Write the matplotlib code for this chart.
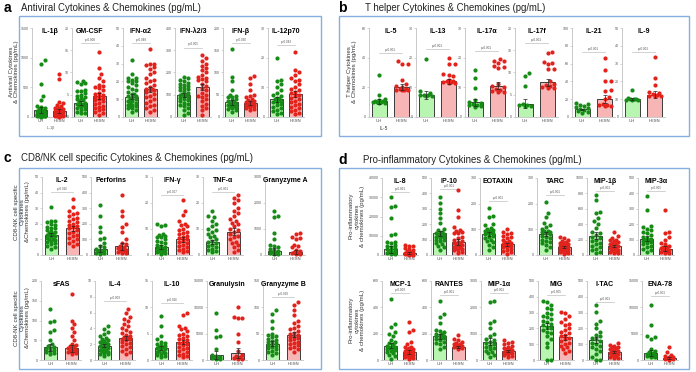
import matplotlib.pyplot as plt
import numpy as np
from matplotlib.patches import Rectangle

plt.rcParams['font.family'] = ['Liberation Sans', 'DejaVu Sans']

FW, FH = 696, 372
fig = plt.figure(figsize=(6.96, 3.72), dpi=100)

GREEN_PT = '#168c16'
RED_PT = '#e3221c'
GREEN_BAR = '#b8f5b0'
RED_BAR = '#f8b5b5'

# ---------------- panel a: antiviral ----------------
a_names = ['IL-1β', 'GM-CSF', 'IFN-α2', 'IFN-λ2/3', 'IFN-β', 'IL-12p70']
a_ymax = [1500, 20, 50, 400, 200, 30]
a_step = [500, 5, 10, 100, 50, 10]
a_uh_mean = [120, 3.2, 11.5, 98, 33, 6]
a_hesn_mean = [100, 4.7, 15.5, 135, 32, 7.7]
a_pvals = [None, 'p=0.008', 'p=0.048', 'p=0.005', 'p=0.030', 'p=0.043']
a_uh_pts = [
    [960, 900, 560, 360, 290, 180, 170, 150, 130, 120, 110, 100, 90, 80, 70, 60, 55, 50, 45, 40, 35, 30, 25, 20, 20, 15, 10, 10, 5],
    [8, 7.8, 7.6, 7.5, 6, 5.9, 5.8, 5.5, 5, 4.8, 4.5, 4.2, 4, 3.8, 3.5, 3.2, 3, 3, 2.8, 2.6, 2.5, 2.2, 2, 1.8, 1.5, 1.2, 1, 0.8],
    [32, 24, 22, 22, 21, 20, 20, 19, 18, 17, 16, 15, 14, 13, 13, 12, 12, 11, 10, 10, 9, 9, 8, 8, 7, 7, 6, 6, 5, 5, 4, 3],
    [180, 175, 165, 160, 155, 150, 145, 140, 135, 130, 125, 120, 115, 110, 105, 100, 100, 95, 90, 85, 80, 75, 70, 65, 60, 55, 50, 40, 30, 20, 10],
    [152, 90, 80, 60, 50, 48, 46, 44, 40, 38, 35, 33, 32, 30, 28, 26, 25, 24, 22, 20, 18, 15, 12],
    [20, 12.5, 12, 11, 10, 9, 8, 7.5, 7, 6.5, 6, 6, 5.5, 5, 5, 4.5, 4, 3.5, 3, 2.5, 2, 1.5, 1],
]
a_hesn_pts = [
    [720, 640, 250, 230, 200, 180, 160, 150, 140, 130, 120, 100, 90, 80, 70, 60, 50, 40, 30, 25, 20, 15, 10, 5],
    [14.5, 11, 9.7, 8.8, 8, 7.3, 7, 6.8, 6.5, 6, 5.5, 5.2, 5, 4.8, 4.5, 4.2, 4, 3.8, 3.5, 3.2, 3, 2.5, 2.2, 2, 1.8, 1.5, 1.2, 1, 0.5],
    [38, 30, 30, 29, 28, 27, 25, 24, 22, 21, 20, 19, 18, 17, 16, 16, 15, 15, 14, 13, 12, 11, 10, 9, 8, 7, 6, 5, 4, 3],
    [280, 265, 250, 240, 230, 220, 210, 200, 190, 180, 175, 170, 165, 160, 150, 140, 130, 120, 110, 100, 95, 90, 80, 70, 60, 50, 40, 30, 10],
    [92, 88, 75, 60, 50, 48, 45, 40, 38, 35, 34, 33, 32, 30, 29, 28, 27, 26, 25, 24, 22, 20, 18, 15],
    [22, 16, 15, 14, 13, 12.5, 12, 11, 10, 9.5, 9, 8.5, 8, 7.5, 7, 6.5, 6, 5.5, 5, 4.5, 4, 3.5, 3, 2.5, 2, 1.5, 1],
]

# ---------------- panel b: T helper ----------------
b_names = ['IL-5', 'IL-13', 'IL-17α', 'IL-17f', 'IL-21', 'IL-9']
b_ymax = [60, 30, 30, 20, 100, 50]
b_step = [20, 10, 10, 5, 20, 10]
b_uh_mean = [10.5, 7.5, 5, 3, 8.5, 10]
b_hesn_mean = [20, 12, 10.5, 7.8, 20, 12.5]
b_pvals = ['p<0.001'] * 6
b_uh_pts = [
    [28.5, 15, 12, 11.5, 11, 10.5, 10, 10, 10, 9.5, 9.5],
    [19.5, 8.7, 8, 7.5, 7.5, 7.3, 7.2, 7.2],
    [16, 13, 9.7, 5.8, 5, 4.6, 4.4, 4.2, 4.0, 3.8, 3.5],
    [9.8, 9.2, 7, 3, 2.8, 2.6, 2.5, 2.4],
    [16, 15, 13, 12, 11, 10, 9, 8, 7, 6, 5],
    [15, 10.5, 10, 10, 10, 9.8, 9.7, 9.5],
]
b_hesn_pts = [
    [38, 36, 36, 25, 22, 21, 20, 19, 19, 18.5, 18.5, 18, 18],
    [20, 18, 17.7, 14.5, 14.3, 13.7, 12.5, 12, 12, 11.8, 11.7, 11.5, 11.5],
    [19.5, 19, 18.8, 18.3, 17.2, 16.8, 16.5, 11, 10.5, 10, 9.5, 9, 8.8, 8.5, 8.3],
    [14.7, 14.3, 12.3, 12.2, 11.8, 10.8, 10.7, 8, 7.5, 7.2, 7, 6.8, 6.6, 6.5],
    [66, 53, 41, 40, 30, 29, 22, 20, 15, 14, 13, 12, 12],
    [33.5, 22, 18, 14, 13.5, 13, 12.5, 12, 12, 11.8],
]

# ---------------- panel c: CD8/NK ----------------
c_names = ['IL-2', 'Perforins', 'IFN-γ', 'TNF-α', 'Granyzyme A',
           'sFAS', 'IL-4', 'IL-10', 'Granulysin', 'Granyzyme B']
c_ymax = [50, 500, 30, 30, 3000, 200, 10, 15, 15000, 150]
c_step = [10, 100, 10, 10, 1000, 50, 2, 5, 5000, 50]
c_uh_mean = [13, 40, 3, 5, 150, 32, 1.8, 2.3, 1000, 31]
c_hesn_mean = [17, 55, 6, 9, 100, 30, 2.8, 3.4, 1300, 48]
c_pvals = ['p=0.016', None, 'p=0.017', 'p<0.001', None,
           None, 'p=0.003', 'p=0.016', None, 'p=0.029']
c_uh_pts = [
    [31, 22, 21.5, 21, 20, 19, 18, 17.5, 17, 16, 15.5, 15, 14, 13.5, 13, 12, 12, 11, 10.5, 10, 9.5, 9, 8.5, 8, 7, 6, 5, 4],
    [320, 250, 180, 150, 110, 100, 80, 60, 50, 40, 35, 30, 25, 20, 15, 10, 5],
    [12, 11.5, 11.3, 8, 7.6, 7.3, 7, 6.8, 6, 5.5, 5, 4.5, 4, 3.5, 3, 2.8, 2.5, 2.2, 2, 1.8, 1.5, 1.2, 1, 0.8, 0.5],
    [17, 15, 14.5, 13, 12, 11, 10, 9.5, 9, 8, 7.5, 7, 6, 5.5, 5, 4.5, 4, 3.5, 3, 2.5, 2, 1.5, 1],
    [1700, 1500, 1450, 850, 600, 400, 350, 300, 250, 200, 150, 100, 80, 60, 40, 20],
    [130, 100, 97, 75, 70, 50, 40, 35, 32, 30, 28, 25, 22, 20, 18, 15],
    [4.3, 3.9, 3.5, 3.3, 3, 2.8, 2.6, 2.5, 2.4, 2.3, 2.2, 2.1, 2, 1.9, 1.8, 1.7, 1.6, 1.5, 1.4, 1.3, 1.2, 1.1, 1, 0.9, 0.8, 0.7, 0.5],
    [8.3, 6.5, 4.5, 4, 3.5, 3.3, 3, 2.8, 2.6, 2.5, 2.4, 2.3, 2.2, 2, 1.8, 1.6, 1.5, 1.4, 1.2, 1, 0.8, 0.5],
    [9000, 5700, 4600, 4300, 2000, 1000, 800, 600, 500, 400, 300, 200, 100],
    [95, 88, 75, 60, 50, 48, 45, 43, 40, 38, 36, 34, 32, 30, 28, 26, 24, 22, 20, 18, 16, 14, 10],
]
c_hesn_pts = [
    [36, 31, 28, 27, 26, 25, 24, 23, 22, 21, 20, 19, 18.5, 18, 17, 16, 15, 14, 13, 12, 11, 10, 9, 8, 7, 6],
    [385, 280, 250, 200, 180, 150, 100, 80, 70, 60, 50, 45, 40, 35, 30, 25, 20, 15, 10],
    [21, 17, 15.5, 13, 12, 11.5, 11, 10, 9.5, 9, 8.5, 8, 7.5, 7, 6.5, 6, 5.5, 5, 4.5, 4, 3.5, 3, 2.5, 2, 1.5, 1],
    [23, 22, 21, 20, 18, 17, 16, 15, 14, 13, 12.5, 12, 11, 10, 9.5, 9, 8, 7.5, 7, 6, 5, 4.5, 4, 3, 2, 1],
    [850, 800, 700, 650, 600, 400, 350, 300, 200, 150, 100, 80, 60, 40, 20],
    [168, 100, 90, 80, 70, 60, 50, 40, 38, 35, 32, 30, 28, 26, 24, 22, 20, 18, 16],
    [6.5, 6, 5.5, 5.2, 5, 4.6, 4.3, 4, 3.8, 3.6, 3.4, 3.2, 3, 2.9, 2.8, 2.7, 2.6, 2.5, 2.3, 2.1, 2, 1.8, 1.6, 1.4, 1.2, 1, 0.8],
    [9, 8.5, 6.5, 6, 5.8, 5.5, 5, 4.8, 4.5, 4.2, 4, 3.8, 3.5, 3.3, 3, 2.8, 2.5, 2.2, 2, 1.8, 1.5, 1.2, 1, 0.8, 0.5],
    [10000, 8200, 8000, 7900, 5000, 3500, 1800, 1000, 800, 500, 300, 200, 100],
    [110, 105, 95, 85, 75, 70, 65, 60, 58, 55, 52, 50, 48, 46, 44, 42, 40, 38, 35, 32, 30, 28, 25, 22, 20, 15],
]

# ---------------- panel d: pro-inflammatory ----------------
d_names = ['IL-8', 'IP-10', 'EOTAXIN', 'TARC', 'MIP-1β', 'MIP-3α',
           'MCP-1', 'RANTES', 'MIP-1α', 'MIG', 'I-TAC', 'ENA-78']
d_ymax = [40000, 500, 300, 300, 1000, 500, 600, 600, 3000, 500, 500, 15000]
d_step = [10000, 100, 100, 100, 200, 100, 200, 200, 1000, 100, 100, 5000]
d_uh_mean = [3000, 140, 83, 82, 250, 105, 110, 180, 700, 215, 125, 1300]
d_hesn_mean = [900, 85, 42, 30, 120, 40, 60, 100, 350, 145, 48, 400]
d_pvals = ['p<0.001', 'p<0.001', 'p<0.001', 'p<0.001', 'p=0.001', 'p=0.005',
           'p=0.003', 'p<0.001', 'p<0.001', 'p=0.005', 'p<0.001', 'p<0.001']
d_uh_pts = [
    [30000, 25500, 25000, 19000, 11000, 10500, 7000, 6500, 6000, 5000, 4500, 4000, 3500, 3000, 2500, 2000, 1500, 1000, 800, 500, 300],
    [375, 340, 300, 270, 240, 210, 170, 160, 150, 145, 140, 135, 130, 125, 120, 115, 110, 100, 95, 90, 80, 70, 60, 50, 30],
    [183, 152, 148, 120, 115, 105, 100, 98, 95, 92, 90, 88, 85, 82, 80, 75, 70, 65, 60, 55, 50, 40, 30, 20],
    [205, 165, 150, 125, 115, 110, 100, 95, 92, 90, 88, 85, 80, 75, 70, 65, 60, 55, 50, 45, 40, 30, 20],
    [780, 720, 560, 540, 480, 440, 400, 350, 300, 280, 260, 240, 220, 200, 180, 160, 140, 120, 100, 80, 60, 40, 20],
    [380, 290, 190, 180, 170, 160, 150, 140, 130, 120, 110, 105, 100, 95, 90, 85, 80, 70, 60, 50, 40, 30, 20],
    [465, 270, 250, 210, 200, 180, 150, 140, 130, 120, 110, 100, 95, 90, 85, 80, 75, 70, 60, 50, 40, 30, 10],
    [445, 350, 325, 280, 230, 220, 210, 200, 195, 190, 185, 180, 175, 170, 165, 160, 150, 140, 130, 120, 100, 80],
    [2250, 2200, 1500, 1400, 1200, 1000, 900, 800, 750, 700, 650, 600, 550, 500, 450, 400, 350, 300, 250, 200, 100],
    [375, 365, 350, 330, 320, 300, 290, 280, 270, 260, 250, 240, 230, 220, 210, 200, 190, 180, 170, 150, 130, 110, 80, 0, 0],
    [350, 305, 250, 230, 200, 180, 160, 150, 140, 130, 120, 110, 100, 90, 80, 70, 60, 40, 20, 0, 0],
    [10500, 6700, 4500, 4300, 4000, 2000, 1800, 1500, 1300, 1200, 1100, 1000, 900, 800, 700, 600, 500],
]
d_hesn_pts = [
    [5000, 4800, 4500, 3500, 3000, 2500, 2000, 1500, 1200, 1000, 800, 600, 400, 300, 200, 100],
    [420, 290, 250, 180, 160, 155, 150, 145, 140, 120, 110, 100, 90, 85, 80, 75, 70, 65, 60, 55, 50, 45, 40, 35, 30, 20, 10],
    [100, 90, 85, 80, 75, 70, 65, 60, 55, 50, 48, 45, 42, 40, 38, 35, 32, 30, 25, 20, 15, 10, 5],
    [70, 65, 60, 55, 50, 48, 45, 42, 40, 38, 35, 32, 30, 28, 25, 22, 20, 18, 15, 12, 10, 8, 5],
    [300, 250, 220, 200, 190, 180, 170, 160, 150, 140, 130, 120, 110, 100, 90, 80, 70, 60, 50, 40, 30, 20],
    [290, 150, 140, 120, 100, 80, 70, 60, 55, 50, 45, 40, 35, 30, 25, 20, 15, 10],
    [290, 230, 210, 140, 120, 100, 95, 90, 85, 80, 75, 70, 65, 60, 55, 50, 45, 40, 35, 30, 25, 20, 15, 10],
    [190, 160, 150, 140, 130, 125, 120, 115, 110, 105, 100, 95, 90, 85],
    [750, 700, 650, 600, 550, 500, 450, 420, 400, 380, 350, 320, 300, 280, 250, 220, 200, 150, 100],
    [305, 295, 280, 260, 240, 230, 220, 200, 190, 180, 170, 160, 150, 140, 130, 120, 110, 100, 90, 80, 70, 60, 45],
    [110, 95, 90, 85, 80, 75, 70, 65, 60, 55, 50, 45, 40, 35, 30, 25, 20, 15, 10],
    [2500, 1500, 1000, 800, 600, 500, 400, 300, 200, 100, 50],
]

# ---------------- layout (pixels): left spine x, top y, bottom y ----------------
a_left = [32, 72, 123, 175, 223, 268]
b_left = [369, 416, 465, 515, 572, 622]
c_left = [42, 91, 152, 203, 265, 41, 95, 152, 207, 263]
d_left = [382, 431, 480, 537, 587, 638, 382, 431, 481, 538, 587, 642]
a_pline = [0.8, 0.83, 0.83, 0.78, 0.83, 0.81]
b_pline = [0.72, 0.76, 0.74, 0.83, 0.73, 0.73]
c_pline = [0.81, 0.8, 0.77, 0.81, 0.8, 0.8, 0.75, 0.72, 0.8, 0.8]
d_pline = [0.82, 0.86, 0.7, 0.78, 0.83, 0.83, 0.85, 0.82, 0.85, 0.82, 0.73, 0.81]

XL = (-0.45, 1.45)


def swarm(vals, ymax, h_px, w_px, half):
    # simple deterministic beeswarm in pixel space
    d = 4.3
    ppx = w_px / (XL[1] - XL[0])
    ppy = h_px / ymax
    lim = half * ppx
    cands = [0.0]
    for k in range(1, 12):
        cands += [k * 2.0, -k * 2.0]
    cands = [c for c in cands if abs(c) <= lim]
    placed, offs = [], []
    for v in sorted(vals):
        y = v * ppy
        best, best_dist = None, -1
        for c in cands:
            md = min([np.hypot(c - px, y - py) for px, py in placed] + [99])
            if md >= d:
                best = c
                break
            if md > best_dist:
                best, best_dist = c, md
        placed.append((best, y))
        offs.append(best / ppx)
    return np.array(offs), np.array(sorted(vals))


def draw(left, top, bottom, width, name, ymax, step, m_uh, m_he, p_uh, p_he, pval, pfrac):
    h = bottom - top
    ax = fig.add_axes([left / FW, 1 - bottom / FH, width / FW, h / FH])
    bw = 0.66
    ax.bar([0, 1], [m_uh, m_he], width=bw, color=[GREEN_BAR, RED_BAR],
           edgecolor='#3c3c3c', linewidth=0.7, zorder=1)
    for i, (pts, col, m) in enumerate([(p_uh, GREEN_PT, m_uh), (p_he, RED_PT, m_he)]):
        offs, vals = swarm(pts, ymax, h, width, bw / 2 - 0.05)
        ax.scatter(i + offs, vals, s=9, color=col, linewidths=0, zorder=3, clip_on=False)
        sem = np.std(pts) / np.sqrt(len(pts))
        ax.errorbar(i, m, yerr=sem, color='#222222', lw=0.5, capsize=1.2,
                    capthick=0.5, zorder=4)
    ax.set_xlim(*XL)
    ax.set_ylim(0, ymax)
    ax.set_yticks(np.arange(0, ymax + step / 2, step))
    ax.set_xticks([0, 1])
    ax.set_xticklabels(['UH', 'HESN'])
    for s in ['top', 'right']:
        ax.spines[s].set_visible(False)
    for s in ['left', 'bottom']:
        ax.spines[s].set_color('#c0c0c0')
        ax.spines[s].set_linewidth(0.6)
    ax.tick_params(axis='y', labelsize=2.6, length=1.5, width=0.4, pad=0.8,
                   colors='#b5b5b5', labelcolor='#555555')
    ax.tick_params(axis='x', labelsize=3, length=0, pad=1.5, labelcolor='#444444')
    ax.patch.set_alpha(0)
    ax.text(0.5, 1.0, name, transform=ax.transAxes, ha='center', va='top',
            fontsize=5, fontweight='bold')
    if pval:
        py = pfrac * ymax
        ax.plot([0, 1], [py, py], color='#c0c0c0', lw=0.5, zorder=2)
        ax.text(0.5, py + 0.015 * ymax, pval, ha='center', va='bottom',
                fontsize=2.2, color='#555555')
    return ax


def panel(lefts, rows, width, names, ymax, step, muh, mhe, puh, phe, pvals, pl):
    for k in range(len(names)):
        top, bottom = rows[0] if len(rows) == 1 or k < len(names) // 2 else rows[1]
        draw(lefts[k], top, bottom, width, names[k], ymax[k], step[k], muh[k], mhe[k],
             puh[k], phe[k], pvals[k], pl[k])


panel(a_left, [(28, 117)], 36, a_names, a_ymax, a_step, a_uh_mean, a_hesn_mean,
      a_uh_pts, a_hesn_pts, a_pvals, a_pline)
panel(b_left, [(28, 117)], 43, b_names, b_ymax, b_step, b_uh_mean, b_hesn_mean,
      b_uh_pts, b_hesn_pts, b_pvals, b_pline)
panel(c_left, [(177, 255), (281, 360)], 40, c_names, c_ymax, c_step, c_uh_mean,
      c_hesn_mean, c_uh_pts, c_hesn_pts, c_pvals, c_pline)
panel(d_left, [(178, 255), (281, 360)], 36, d_names, d_ymax, d_step, d_uh_mean,
      d_hesn_mean, d_uh_pts, d_hesn_pts, d_pvals, d_pline)


def ftext(x, y, s, **kw):
    fig.text(x / FW, 1 - y / FH, s, **kw)


# blue panel frames
for (x0, y0, x1, y1) in [(19, 16, 321, 136), (339, 16, 689, 136),
                         (19, 168, 321, 369), (339, 168, 689, 369)]:
    fig.patches.append(Rectangle((x0 / FW, 1 - y1 / FH), (x1 - x0) / FW, (y1 - y0) / FH,
                                 transform=fig.transFigure, fill=False,
                                 edgecolor='#86aee0', linewidth=1.0))

# panel letters and titles
for letter, lx, ty, tx, title in [
        ('a', 4, 8, 21, 'Antiviral Cytokines & Chemokines (pg/mL)'),
        ('b', 338, 8, 365, 'T helper Cytokines & Chemokines (pg/mL)'),
        ('c', 4, 158, 21, 'CD8/NK cell specific Cytokines & Chemokines (pg/mL)'),
        ('d', 338, 160, 363, 'Pro-inflammatory Cytokines & Chemokines (pg/mL)')]:
    ftext(lx, ty, letter, fontsize=10, fontweight='bold', va='center', ha='left')
    ftext(tx, ty, title, fontsize=6.9, va='center', ha='left', color='#222222')

# row y-labels
ylab = dict(fontsize=4.4, rotation=90, ha='center', va='center', color='#333333',
            multialignment='center')
ftext(14, 72, 'Antiviral Cytokines\n& Chemokines (pg/mL)', **ylab)
ftext(352, 72, 'T helper Cytokines\n& Chemokines (pg/mL)', **ylab)
ftext(22, 212, 'CD8-NK cell specific\nCytokines\n&Chemokines (pg/mL)', **ylab)
ftext(22, 318, 'CD8-NK cell specific\nCytokines\n&Chemokines (pg/mL)', **ylab)
ftext(357, 216, 'Pro-inflammatory\ncytokines\n& chemokines (pg/mL)', **ylab)
ftext(357, 320, 'Pro-inflammatory\ncytokines\n& chemokines (pg/mL)', **ylab)

# small captions under first plots
ftext(51, 128, 'IL-1β', fontsize=2.6, ha='center', va='center', color='#555555')
ftext(384, 128, 'IL-5', fontsize=3.5, ha='center', va='center', color='#333333')

fig.savefig('out.png', dpi=100)
